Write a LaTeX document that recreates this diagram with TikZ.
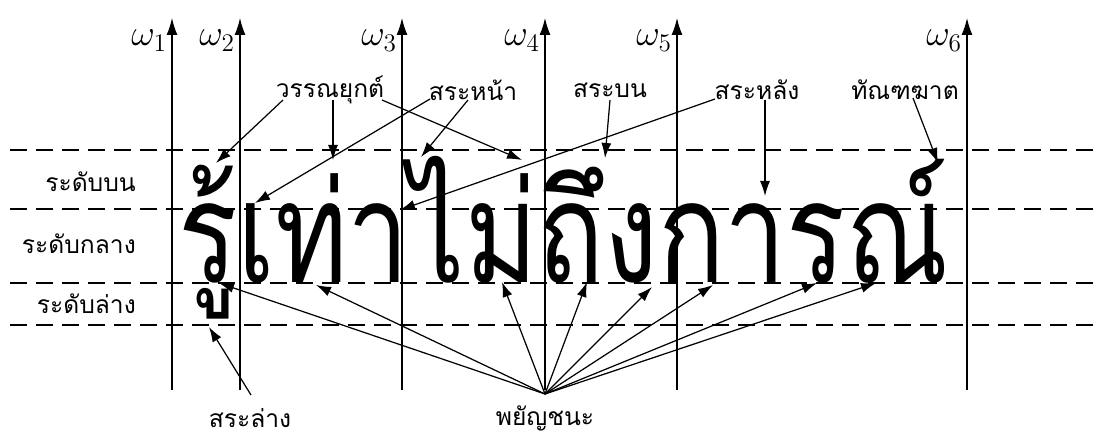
\documentclass[tikz,border=0pt]{standalone}
\usepackage{fontspec}
\newfontfamily\thaifont[Script=Thai]{Loma}
\usetikzlibrary{arrows.meta}

\begin{document}
\begin{tikzpicture}[x=0.2mm,y=-0.2mm,
  thai/.style={font=\thaifont\fontsize{14}{16}\selectfont},
  level/.style={line width=0.8pt,dash pattern=on 3.4mm off 1.8mm},
  axis/.style={line width=0.8pt,-{Latex[length=3.4mm,width=2.2mm]}},
  pointer/.style={line width=0.7pt,-{Latex[length=3mm,width=2mm]}}]
\useasboundingbox (0,0) rectangle (1100,437);
% the three writing levels
\foreach \y in {150,209,283,325}
  \draw[level] (10,\y) -- (1100,\y);
\node[thai,anchor=east] (top)  at (142,182) {ระดับบน};
\node[thai,anchor=east] (mid)  at (142,244) {ระดับกลาง};
\node[thai,anchor=east] (low)  at (142,304) {ระดับล่าง};
% the cell borders
\foreach \x/\i in {172/1,240/2,402/3,545/4,677/5,967/6} {
  \draw[axis] (\x,390) -- (\x,18);
  \node[font=\fontsize{22}{26}\selectfont,anchor=base east,inner sep=1pt] (w\i) at (\x-3,46) {$\omega_{\i}$};
}
% the word
\node[font=\thaifont\fontsize{80}{90}\selectfont,anchor=base west,inner sep=0pt]
  (word) at (178,283) {\resizebox{154mm}{\height}{รู้เท่าไม่ถึงการณ์}};
% labels
\node[thai] (tone)  at (330,90)  {วรรณยุกต์};
\node[thai] (front) at (473,90)  {สระหน้า};
\node[thai] (above) at (610,90)  {สระบน};
\node[thai] (back)  at (757,90)  {สระหลัง};
\node[thai] (karan) at (905,90)  {ทัณฑฆาต};
\node[thai] (below) at (250,418) {สระล่าง};
\node[thai] (cons)  at (545,418) {พยัญชนะ};
% arrow targets
\coordinate (apex) at (545,394);
\coordinate (t1) at (216,163);
\coordinate (t2) at (333,160);
\coordinate (t3) at (522,160);
\coordinate (f1) at (255,203);
\coordinate (f2) at (421,157);
\coordinate (a1) at (605,158);
\coordinate (b1) at (400,210);
\coordinate (b2) at (765,196);
\coordinate (k1) at (938,163);
\coordinate (u1) at (209,327);
\foreach \c/\x/\y in {c1/219/283,c2/316/285,c3/502/282,c4/587/282,c5/652/287,c6/713/285,c7/817/283,c8/876/283}
  \coordinate (\c) at (\x,\y);
% arrows
\draw[pointer] (283,100) -- (t1);
\draw[pointer] (333,100) -- (t2);
\draw[pointer] (382,100) -- (t3);
\draw[pointer] (430,99) -- (f1);
\draw[pointer] (468,100) -- (f2);
\draw[pointer] (610,100) -- (a1);
\draw[pointer] (715,99) -- (b1);
\draw[pointer] (765,100) -- (b2);
\draw[pointer] (913,98) -- (k1);
\draw[pointer] (251,395) -- (u1);
\foreach \c in {c1,c2,c3,c4,c5,c6,c7,c8}
  \draw[pointer] (apex) -- (\c);
\end{tikzpicture}
\end{document}
